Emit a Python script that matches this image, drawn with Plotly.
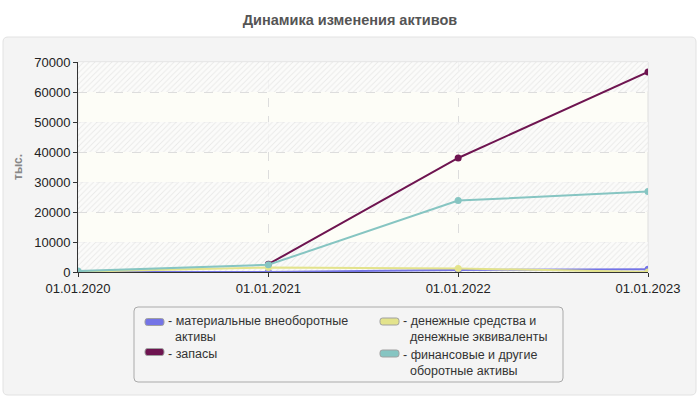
import plotly.graph_objects as go

# data
dates = ["2020-01-01", "2021-01-01", "2022-01-01", "2023-01-01"]
date_labels = ["01.01.2020", "01.01.2021", "01.01.2022", "01.01.2023"]

tangible = [0, 0, 700, 900]            # материальные внеоборотные активы
stocks = [None, 2600, 38000, 66700]    # запасы
cash = [100, 1500, 1200, 0]            # денежные средства и денежные эквиваленты
financial = [300, 2400, 23800, 26800]  # финансовые и другие оборотные активы

names = [
    "материальные внеоборотные активы",
    "запасы",
    "денежные средства и денежные эквиваленты",
    "финансовые и другие оборотные активы",
]
legend_labels = [
    "- материальные внеоборотные<br>&nbsp;&nbsp;активы",
    "- запасы",
    "- денежные средства и<br>&nbsp;&nbsp;денежные эквиваленты",
    "- финансовые и другие<br>&nbsp;&nbsp;оборотные активы",
]
colors = ["#7474e6", "#6e1450", "#e3e38c", "#86c5c2"]

W, H = 700, 400
L, R, T, B = 78, 52, 62, 128
PW, PH = W - L - R, H - T - B


def px(x):
    return (x - L) / PW


def py(y):
    return (H - B - y) / PH


def rounded(x0, y0, x1, y1, r):
    # rounded rectangle path in paper coords, input in pixels
    pts = [
        f"M{px(x0 + r)},{py(y0)}", f"L{px(x1 - r)},{py(y0)}",
        f"Q{px(x1)},{py(y0)} {px(x1)},{py(y0 + r)}", f"L{px(x1)},{py(y1 - r)}",
        f"Q{px(x1)},{py(y1)} {px(x1 - r)},{py(y1)}", f"L{px(x0 + r)},{py(y1)}",
        f"Q{px(x0)},{py(y1)} {px(x0)},{py(y1 - r)}", f"L{px(x0)},{py(y0 + r)}",
        f"Q{px(x0)},{py(y0)} {px(x0 + r)},{py(y0)}", "Z",
    ]
    return " ".join(pts)


fig = go.Figure()

# hatched bands on every other 10000 step (hidden helper x axis)
y_step = 10000
y_max = 70000
band_starts = list(range(0, y_max, 2 * y_step))
fig.add_trace(go.Bar(
    x=[0.5] * len(band_starts), y=[y_step] * len(band_starts), base=band_starts,
    width=1, xaxis="x", yaxis="y",
    marker=dict(color="rgba(250,250,250,0.75)", line_width=0,
                pattern=dict(shape="/", fgcolor="rgba(205,205,205,0.8)", size=4, solidity=0.25)),
    hoverinfo="skip", showlegend=False,
))

series = [tangible, stocks, cash, financial]
for i in range(4):
    fig.add_trace(go.Scatter(
        x=dates, y=series[i], name=names[i], mode="lines+markers",
        xaxis="x2", yaxis="y",
        line=dict(color=colors[i], width=2),
        marker=dict(color=colors[i], size=7),
        showlegend=False,
    ))

font = "Liberation Sans, Arial, sans-serif"

shapes = [
    # outer rounded box
    dict(type="path", xref="paper", yref="paper", path=rounded(3, 37, 696, 395, 5),
         fillcolor="#f4f4f4", line=dict(color="#e2e2e2", width=1), layer="below"),
    # plot area background
    dict(type="rect", xref="paper", yref="paper", x0=0, x1=1, y0=0, y1=1,
         fillcolor="#fdfdf7", line=dict(color="#dddddd", width=1), layer="below"),
    # legend box
    dict(type="path", xref="paper", yref="paper", path=rounded(134, 307, 563, 382, 4),
         fillcolor="#f4f4f4", line=dict(color="#aaaaaa", width=1), layer="below"),
]

annotations = [
    dict(text="<b>тыс.</b>", xref="paper", yref="paper", x=px(18), y=py(167), showarrow=False,
         xanchor="center", yanchor="middle",
         textangle=-90, font=dict(family=font, size=12, color="#888888")),
]

# legend: swatch x, swatch centre y, top of the text block
legend_items = [
    (0, 145, 322, 311.5),
    (1, 145, 352, 345),
    (2, 380, 321.5, 312),
    (3, 380, 353.5, 345.5),
]
for idx, sx, sy, ty in legend_items:
    shapes.append(dict(type="path", xref="paper", yref="paper",
                       path=rounded(sx, sy - 3.5, sx + 19, sy + 3.5, 2.5),
                       fillcolor=colors[idx], line=dict(color="#a0a0a0", width=1), layer="above"))
    annotations.append(dict(text=legend_labels[idx], xref="paper", yref="paper",
                            x=px(sx + 21), y=py(ty), xanchor="left", yanchor="top",
                            align="left", showarrow=False,
                            font=dict(family=font, size=12.5, color="#333333")))

fig.update_layout(
    width=W, height=H,
    margin=dict(l=L, r=R, t=T, b=B),
    paper_bgcolor="white",
    plot_bgcolor="rgba(0,0,0,0)",
    font=dict(family=font, size=13, color="#222222"),
    title=dict(text="<b>Динамика изменения активов</b>", x=0.5, xref="container", y=1 - 20 / H,
               xanchor="center", yanchor="middle",
               font=dict(family=font, size=14.5, color="#555555")),
    showlegend=False,
    bargap=0,
    xaxis=dict(range=[0, 1], visible=False),
    xaxis2=dict(
        overlaying="x", side="bottom", anchor="y",
        type="date", range=[dates[0], dates[-1]],
        tickvals=dates, ticktext=date_labels,
        ticks="outside", ticklen=4, tickcolor="#333333",
        showline=True, linecolor="#333333", linewidth=1,
        showgrid=True, gridcolor="#dddddd", griddash="dash",
        zeroline=False, tickfont=dict(size=13, color="#222222"),
    ),
    yaxis=dict(
        range=[0, y_max], dtick=y_step, tickformat="d",
        ticks="outside", ticklen=4, tickcolor="#333333",
        showline=True, linecolor="#333333", linewidth=1,
        showgrid=True, gridcolor="#dddddd", griddash="dash",
        zeroline=False, tickfont=dict(size=13, color="#222222"),
    ),
    shapes=shapes,
    annotations=annotations,
)

# the page is photographed at exactly the figure size, so drop the body margin
fig.write_html("out.html", config={"displayModeBar": False},
               post_script="document.body.style.margin='0';")
